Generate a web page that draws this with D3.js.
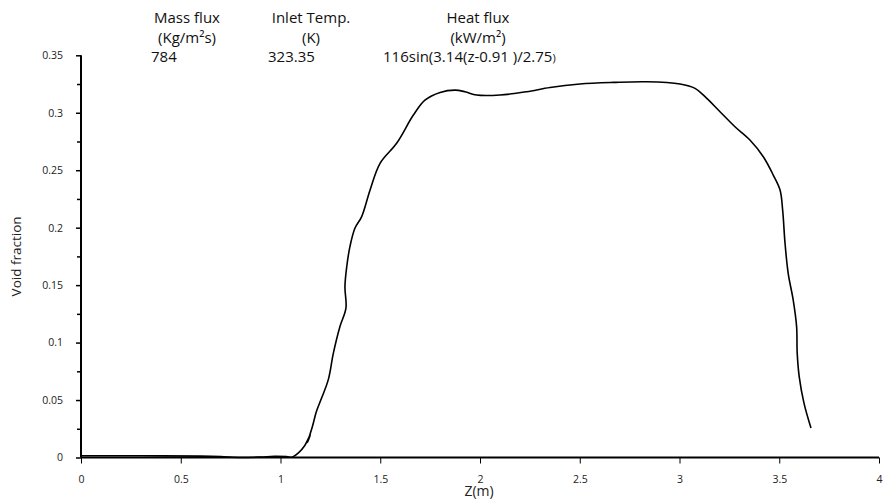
<!DOCTYPE html>
<html>
<head>
<meta charset="utf-8">
<script src="https://cdn.jsdelivr.net/npm/d3@7"></script>
<style>
  body { margin: 0; background: #fff; }
  svg { display: block; }
</style>
</head>
<body>
<svg id="chart" width="889" height="501"></svg>
<script>
// ---- data ----
const zValues = [0, 0.3, 0.6, 0.7, 0.8, 0.9, 0.97, 1.03, 1.06, 1.09, 1.12, 1.15, 1.135, 1.16, 1.18, 1.206, 1.24, 1.265, 1.298, 1.328, 1.323, 1.332, 1.348, 1.373, 1.407, 1.449, 1.499, 1.582, 1.666, 1.724, 1.80, 1.875, 1.925, 1.983, 2.10, 2.234, 2.351, 2.501, 2.668, 2.835, 3.003, 3.078, 3.128, 3.203, 3.278, 3.353, 3.42, 3.47, 3.504, 3.517, 3.529, 3.545, 3.57, 3.587, 3.59, 3.60, 3.624, 3.659];
const voidFraction = [0.0015, 0.0015, 0.0012, 0.0008, 0.0, 0.0004, 0.001, 0.0008, 0.0004, 0.004, 0.010, 0.020, 0.013, 0.027, 0.040, 0.0517, 0.068, 0.0908, 0.114, 0.130, 0.1487, 0.166, 0.1835, 0.1995, 0.2096, 0.2328, 0.256, 0.2734, 0.298, 0.311, 0.3177, 0.3197, 0.3183, 0.3154, 0.3154, 0.3183, 0.322, 0.325, 0.3264, 0.327, 0.325, 0.3212, 0.314, 0.3009, 0.2878, 0.2763, 0.2617, 0.2458, 0.2328, 0.2154, 0.1864, 0.160, 0.137, 0.1139, 0.0908, 0.0704, 0.0473, 0.0256];
const xTicks = [0, 0.5, 1, 1.5, 2, 2.5, 3, 3.5, 4];
const yTicks = [0, 0.05, 0.1, 0.15, 0.2, 0.25, 0.3, 0.35];
const yMinorTicks = [0.025, 0.075, 0.125, 0.175, 0.225, 0.275, 0.325];
const xTitle = "Z(m)";
const yTitle = "Void fraction";
const headerLines = [["Mass flux", "(Kg/m²s)"], ["Inlet Temp.", "(K)"], ["Heat flux", "(kW/m²)"]];
const headerValues = ["784", "323.35", "116sin(3.14(z-0.91 )/2.75"];

// ---- layout ----
const svg = d3.select("#chart");
const mLeft = 81, mRight = 879, mTop = 55.3, mBottom = 457.5;
const x = d3.scaleLinear().domain([0, 4]).range([mLeft, mRight]);
const y = d3.scaleLinear().domain([0, 0.35]).range([mBottom, mTop]);
const font = "'Open Sans', sans-serif";

// axes
const xAxis = svg.append("g").attr("transform", `translate(0,${mBottom})`)
  .call(d3.axisBottom(x).tickValues(xTicks).tickSize(6).tickPadding(12)
        .tickFormat(d => String(d)));
xAxis.select(".domain").attr("stroke", "#000").attr("stroke-width", 2).attr("d", `M${mLeft},0H${mRight}`);
xAxis.selectAll(".tick line").attr("stroke", "#000").attr("stroke-width", 1);
xAxis.selectAll(".tick text").attr("font-family", font).attr("font-size", 10.5).attr("fill", "#222");

const yAxis = svg.append("g").attr("transform", `translate(${mLeft},0)`)
  .call(d3.axisLeft(y).tickValues(yTicks).tickSize(5).tickPadding(13)
        .tickFormat(d => String(+d.toFixed(2))));
yAxis.select(".domain").attr("stroke", "#000").attr("stroke-width", 2).attr("d", `M0,${mBottom}V${mTop}`);
yAxis.selectAll(".tick line").attr("stroke", "#000").attr("stroke-width", 1.5);
yAxis.selectAll(".tick text").attr("font-family", font).attr("font-size", 10.5).attr("fill", "#222");

svg.append("g").attr("transform", `translate(${mLeft},0)`)
  .call(d3.axisLeft(y).tickValues(yMinorTicks).tickSize(4).tickFormat(""))
  .call(g => g.select(".domain").remove())
  .selectAll(".tick line").attr("stroke", "#000").attr("stroke-width", 1.5);

// titles
svg.append("text").attr("x", 479).attr("y", 495.5)
  .attr("text-anchor", "middle").attr("font-family", font).attr("font-size", 14)
  .attr("fill", "#222").text(xTitle);
svg.append("text").attr("transform", `translate(21,${(mTop + mBottom) / 2}) rotate(-90)`)
  .attr("text-anchor", "middle").attr("font-family", font).attr("font-size", 13.5)
  .attr("fill", "#222").text(yTitle);

// header
const hdrX = [187, 311, 478];
const valX = [151, 268, 383];
headerLines.forEach((lines, i) => {
  lines.forEach((t, j) => {
    svg.append("text").attr("x", hdrX[i]).attr("y", 23 + j * 19.5)
      .attr("text-anchor", "middle").attr("font-family", font).attr("font-size", 15)
      .attr("fill", "#111").text(t);
  });
  const v = svg.append("text").attr("x", valX[i]).attr("y", 62)
    .attr("font-family", font).attr("font-size", 15).attr("fill", "#111").text(headerValues[i]);
  if (i === 2) v.append("tspan").attr("font-size", 11).text(")");
});

// curve
const pts = zValues.map((z, i) => [z, voidFraction[i]]);
svg.append("path").datum(pts)
  .attr("fill", "none").attr("stroke", "#000").attr("stroke-width", 1.6)
  .attr("d", d3.line().x(d => x(d[0])).y(d => y(d[1])).curve(d3.curveCatmullRom.alpha(0.5)));
</script>
</body>
</html>
